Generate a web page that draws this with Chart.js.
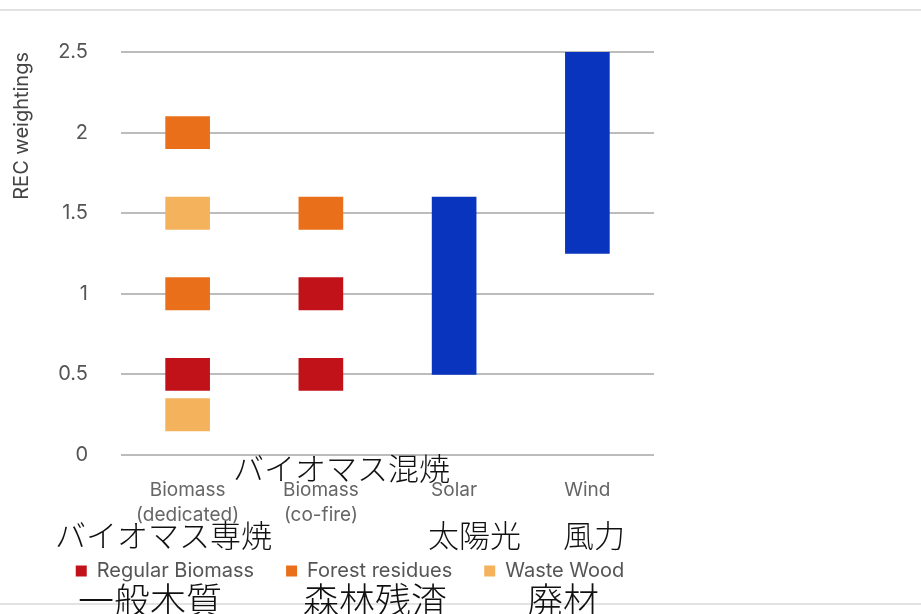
<!DOCTYPE html>
<html>
<head>
<meta charset="utf-8">
<script src="https://cdn.jsdelivr.net/npm/chart.js@4"></script>
<style>
  body { margin: 0; background: #fff; }
  #wrap { position: relative; width: 921px; height: 614px; overflow: hidden; font-family: "Noto Sans CJK JP", sans-serif; }
  #chartBox { position: absolute; left: 0; top: 0; width: 700px; height: 614px; }
  .rule { position: absolute; left: 0; width: 921px; height: 2px; background: #e2e2e2; }
  .jp { position: absolute; color: #111; white-space: nowrap; line-height: 1; font-family: "Noto Sans CJK JP", sans-serif; font-weight: 300; }
  .jp.s { font-size: 31px; }
  .jp.l { font-size: 36px; }
</style>
</head>
<body>
<div id="wrap">
  <div class="rule" style="top:9px"></div>
  <div id="chartBox"><canvas id="recChart"></canvas></div>
  <div class="rule" style="top:603px"></div>

  <div class="jp s" style="left:233px; top:451px">バイオマス混焼</div>
  <div class="jp s" style="left:55px; top:518px">バイオマス専焼</div>
  <div class="jp s" style="left:428px; top:518px">太陽光</div>
  <div class="jp s" style="left:563px; top:518px">風力</div>
  <div class="jp l" style="left:78px; top:580px">一般木質</div>
  <div class="jp l" style="left:303px; top:580px">森林残渣</div>
  <div class="jp l" style="left:527px; top:580px">廃材</div>
</div>

<script>
// categories and value ranges (floating bars, [low, high])
const categories = [['Biomass', '(dedicated)'], ['Biomass', '(co-fire)'], 'Solar', 'Wind'];
const yTicks = [0, 0.5, 1, 1.5, 2, 2.5];

const regularBiomass = [[0.4, 0.6], [0.4, 0.6], null, null];
const regularBiomass2 = [null, [0.9, 1.1], null, null];
const forestResidues = [[0.9, 1.1], [1.4, 1.6], null, null];
const forestResidues2 = [[1.9, 2.1], null, null, null];
const wasteWood = [[1.4, 1.6], null, null, null];
const wasteWood2 = [[0.15, 0.35], null, null, null];
const renewRange = [null, null, [0.5, 1.6], [1.25, 2.5]];

const RED = '#c11119';
const ORANGE = '#ea6f1a';
const LIGHT = '#f5b25d';
const BLUE = '#0934bd';

function bar(label, data, color) {
    return {
        label: label,
        data: data,
        backgroundColor: color,
        borderWidth: 0,
        grouped: false,
        barThickness: 44
    };
}

document.addEventListener('DOMContentLoaded', function() {
    const ctx = document.getElementById('recChart').getContext('2d');
    new Chart(ctx, {
        type: 'bar',
        data: {
            labels: categories,
            datasets: [
                bar('Regular Biomass', regularBiomass, RED),
                bar('Forest residues', forestResidues, ORANGE),
                bar('Waste Wood', wasteWood, LIGHT),
                bar('', regularBiomass2, RED),
                bar('', forestResidues2, ORANGE),
                bar('', wasteWood2, LIGHT),
                bar('', renewRange, BLUE)
            ]
        },
        options: {
            responsive: true,
            maintainAspectRatio: false,
            animation: false,
            // symmetric padding so the legend sits centred at x=350
            layout: { padding: { left: 20, right: 20, top: 52, bottom: 23 } },
            plugins: {
                legend: {
                    position: 'bottom',
                    labels: {
                        boxWidth: 11,
                        boxHeight: 11,
                        padding: 32,
                        color: '#555',
                        font: { family: 'Inter', size: 20 },
                        filter: function(item) { return item.text !== ''; }
                    }
                },
                tooltip: { enabled: false }
            },
            scales: {
                x: {
                    grid: { display: false },
                    border: { display: false },
                    ticks: {
                        color: '#666',
                        padding: 15,
                        maxRotation: 0,
                        font: { family: 'Inter', size: 19, lineHeight: 1.3 }
                    },
                    afterFit: function(scale) { scale.height = 74; }
                },
                y: {
                    min: 0,
                    max: 2.5,
                    afterBuildTicks: function(scale) {
                        scale.ticks = yTicks.map(function(v) { return { value: v }; });
                    },
                    grid: { color: '#bcbcbc', lineWidth: 2, drawTicks: false },
                    border: { display: false },
                    ticks: {
                        color: '#555',
                        padding: 33,
                        font: { family: 'Inter', size: 20 },
                        callback: function(v) { return String(v); }
                    },
                    title: {
                        display: true,
                        text: 'REC weightings',
                        align: 'end',
                        color: '#444',
                        font: { family: 'Inter', size: 20 },
                        padding: { top: -10, bottom: 0 }
                    },
                    afterFit: function(scale) { scale.width = 101; }
                },
                // empty spacer on the right so the plot ends where the reference does
                spacer: {
                    type: 'linear',
                    position: 'right',
                    grid: { drawOnChartArea: false, drawTicks: false },
                    border: { display: false },
                    ticks: { display: false },
                    afterFit: function(scale) { scale.width = 26; }
                }
            }
        }
    });
});
</script>
</body>
</html>
